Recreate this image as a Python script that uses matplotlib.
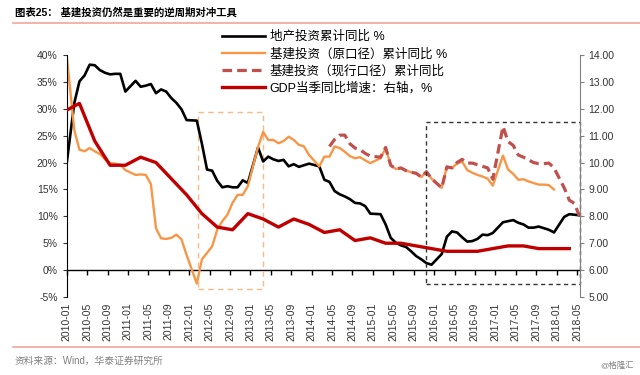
import matplotlib
matplotlib.use("Agg")
import matplotlib.pyplot as plt
from matplotlib.lines import Line2D
from matplotlib.patches import Rectangle
import pandas as pd

plt.rcParams["font.family"] = ["Liberation Sans", "Noto Sans CJK SC", "DejaVu Sans"]

# monthly axis 2009-12 .. 2018-05 (cumulative data has no January value)
months = pd.date_range("2009-12-01", "2018-05-01", freq="MS")

estate_yoy = [16.1,
    None, 31.1, 35.1, 36.2, 38.2, 38.1, 37.2, 36.7, 36.4, 36.5, 36.5, 33.2,  # 2010
    None, 35.2, 34.1, 34.3, 34.6, 32.9, 33.6, 33.2, 32.0, 31.1, 29.9, 27.9,  # 2011
    None, 27.8, 23.5, 18.7, 18.5, 16.6, 15.4, 15.6, 15.4, 15.4, 16.7, 16.2,  # 2012
    None, 22.8, 20.2, 21.1, 20.6, 20.3, 20.5, 19.3, 19.7, 19.2, 19.5, 19.8,  # 2013
    None, 19.3, 16.8, 16.4, 14.7, 14.1, 13.7, 13.2, 12.5, 12.4, 11.9, 10.5,  # 2014
    None, 10.4, 8.5, 6.0, 5.1, 4.6, 4.3, 3.5, 2.6, 2.0, 1.3, 1.0,  # 2015
    None, 3.0, 6.2, 7.2, 7.0, 6.1, 5.3, 5.4, 5.8, 6.6, 6.5, 6.9,  # 2016
    None, 8.9, 9.1, 9.3, 8.8, 8.5, 7.9, 7.9, 8.1, 7.8, 7.5, 7.0,  # 2017
    None, 9.9, 10.4, 10.3, 10.2]  # 2018

infra_old_yoy = [44.5,
    None, 26.0, 22.4, 22.1, 22.7, 22.1, 21.6, 20.6, 19.9, 19.8, 19.6, 18.6,  # 2010
    None, 17.7, 17.8, 17.7, 16.0, 7.8, 5.9, 5.8, 6.0, 6.6, 5.7, 2.8,  # 2011
    None, -2.5, 2.0, 3.2, 4.4, 7.5, 9.1, 10.3, 12.5, 14.0, 14.0, 15.6,  # 2012
    None, 22.9, 25.7, 24.2, 24.2, 23.6, 24.0, 24.8, 24.2, 23.3, 23.0, 21.4,  # 2013
    None, 19.3, 21.1, 21.1, 23.0, 22.7, 22.0, 21.2, 20.8, 21.0, 20.4, 19.9,  # 2014
    None, 20.8, 22.7, 19.5, 18.8, 19.0, 18.5, 18.2, 18.0, 17.3, 18.3, 17.0,  # 2015
    None, 15.3, 19.2, 19.0, 19.8, 20.2, 18.6, 18.1, 17.7, 17.4, 17.0, 15.7,  # 2016
    None, 21.3, 18.7, 17.9, 16.8, 16.9, 16.5, 16.2, 15.9, 15.9, 15.8, 15.0,  # 2017
    None, None, None, None, None]  # 2018

infra_new_yoy = [None,
    None, None, None, None, None, None, None, None, None, None, None, None,  # 2010
    None, None, None, None, None, None, None, None, None, None, None, None,  # 2011
    None, None, None, None, None, None, None, None, None, None, None, None,  # 2012
    None, None, None, None, None, None, None, None, None, None, None, None,  # 2013
    None, None, None, 23.0, 24.3, 25.1, 25.1, 23.5, 22.7, 22.4, 21.7, 21.2,  # 2014
    None, 21.0, 22.8, 19.5, 18.8, 19.0, 18.5, 18.2, 18.0, 17.3, 18.3, 17.0,  # 2015
    None, 15.3, 19.2, 19.0, 20.0, 20.6, 19.9, 19.9, 19.6, 19.3, 19.0, 16.9,  # 2016
    None, 26.7, 23.9, 23.2, 21.4, 21.0, 20.5, 20.0, 19.8, 19.8, 19.9, 19.0,  # 2017
    None, 15.3, 13.0, 12.4, 10.0]  # 2018

# quarterly GDP, 2009Q4 .. 2018Q1 (right axis)
gdp_quarters = pd.date_range("2009-12-01", "2018-03-01", freq="3MS")
gdp_yoy = [11.9,
    12.2, 10.8, 9.9, 9.9,
    10.2, 10.0, 9.4, 8.8,
    8.1, 7.6, 7.5, 8.1,
    7.9, 7.6, 7.9, 7.7,
    7.4, 7.5, 7.1, 7.2,
    7.0, 7.0, 6.9, 6.8,
    6.7, 6.7, 6.7, 6.8,
    6.9, 6.9, 6.8, 6.8,
    6.8]

tick_dates = pd.date_range("2010-01-01", "2018-05-01", freq="4MS")
tick_labels = [d.strftime("%Y-%m") for d in tick_dates]


def month_pos(dates, shift=0.0):
    return [(d.year - 2010) * 12 + d.month - 1 + shift for d in dates]


def series(values, dates):
    s = pd.Series(values, index=month_pos(dates, 0.5), dtype=float)
    return s.dropna()


fig = plt.figure(figsize=(6.4, 3.75), dpi=100)
ax = fig.add_axes([0.1042, 0.208, 0.8013, 0.6453])
ax2 = ax.twinx()

s = series(estate_yoy, months)
l1, = ax.plot(s.index, s.values, color="black", lw=1.9, label="地产投资累计同比 %")
s = series(infra_old_yoy, months)
l2, = ax.plot(s.index, s.values, color="#F79646", lw=1.7, label="基建投资（原口径）累计同比 %")
s = series(infra_new_yoy, months)
l3, = ax.plot(s.index, s.values, color="#C0504D", lw=2.3, dashes=(3, 1.6),
              label="基建投资（现行口径）累计同比")
s = series(gdp_yoy, gdp_quarters)
l4, = ax2.plot(s.index, s.values, color="#C00000", lw=2.4, label="GDP当季同比增速：右轴，%")

ax.set_xlim(0, 100.5)
ax.set_ylim(-5, 40)
ax.set_yticks(range(-5, 41, 5))
ax.set_yticklabels([f"{v}%" for v in range(-5, 41, 5)])
ax2.set_ylim(5, 14)
ax2.set_yticks(range(5, 15))
ax2.set_yticklabels([f"{v:.2f}" for v in range(5, 15)])

ax.set_xticks(month_pos(tick_dates))
ax.set_xticklabels(tick_labels, rotation=90)
ax.tick_params(axis="x", length=0, pad=4, labelsize=7.5, colors="#333333")
ax.tick_params(axis="y", direction="out", length=3, labelsize=7.5, colors="#333333")
ax2.tick_params(axis="y", direction="out", length=3, labelsize=7.5,
                colors="#333333", color="#808080")

for sp in ["top", "right", "bottom"]:
    ax.spines[sp].set_visible(False)
for sp in ["top", "left", "bottom"]:
    ax2.spines[sp].set_visible(False)
ax2.spines["right"].set_color("#808080")

# zero line with tick marks
zero = ax.secondary_xaxis(5 / 45)
zero.set_xticks(month_pos(tick_dates))
zero.set_xticklabels([])
zero.tick_params(direction="out", length=3.5, width=1)
zero.spines["bottom"].set_linewidth(1)

# highlight boxes
ax.add_patch(Rectangle((25.8, -3.6), 12.6, 33.0, fill=False, ec="#F9B98A",
                       lw=1.0, ls=(0, (4, 3)), clip_on=False))
ax.add_patch(Rectangle((70.5, -2.5), 30.0, 30.1, fill=False, ec="#333333",
                       lw=1.0, ls=(0, (3, 2.5)), clip_on=False, zorder=5))

fig.legend([l1, l2, l3, l4], [h.get_label() for h in [l1, l2, l3, l4]],
           loc="upper left", bbox_to_anchor=(0.347, 0.918), frameon=False,
           fontsize=9, handlelength=3.4, labelspacing=0.38, handletextpad=0.4,
           borderaxespad=0, borderpad=0)

fig.text(15 / 640, 1 - 12.7 / 375, "图表25： 基建投资仍然是重要的逆周期对冲工具",
         fontsize=7.5, fontweight="bold", va="center", ha="left")
fig.add_artist(Line2D([13 / 640, 1], [1 - 22.7 / 375] * 2, color="#F2A59B", lw=1.2))
fig.add_artist(Line2D([13 / 640, 1], [1 - 347 / 375] * 2, color="#F2A59B", lw=1.2))
fig.text(15 / 640, 1 - 361 / 375, "资料来源：Wind，华泰证券研究所",
         fontsize=7, color="#808080", va="center", ha="left")
fig.text(634 / 640, 1 - 366 / 375, "@格隆汇", fontsize=6, color="#808080",
         va="center", ha="right")

fig.savefig("out.png", dpi=100)
